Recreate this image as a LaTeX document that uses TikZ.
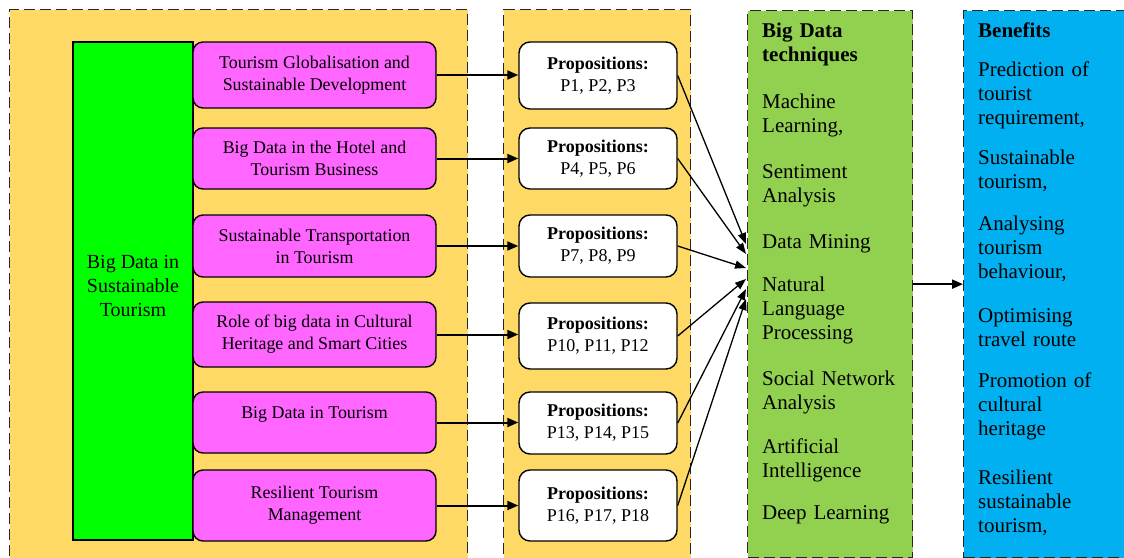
\documentclass[tikz,border=0pt]{standalone}
\usepackage{fontspec}
\setmainfont{Liberation Serif}
\usetikzlibrary{arrows.meta}
\definecolor{panelyellow}{HTML}{FFD966}
\definecolor{brightgreen}{HTML}{00FF00}
\definecolor{pinkbox}{HTML}{FF66FF}
\definecolor{techgreen}{HTML}{92D050}
\definecolor{benblue}{HTML}{00B0F0}
\tikzset{
  panel/.style={draw=black!85, line width=1.3pt, dash pattern=on 11pt off 5pt, inner sep=0pt},
  mbox/.style={draw=black, line width=1.4pt, fill=pinkbox, rounded corners=10pt, minimum width=243pt, inner sep=0pt, align=center, font=\fontsize{17.9}{22}\selectfont},
  pbox/.style={draw=black, line width=1.4pt, fill=white, rounded corners=11pt, minimum width=158pt, inner sep=0pt, align=center, font=\fontsize{18}{22}\selectfont},
  coltext/.style={anchor=base west, inner sep=0pt, text width=150pt, align=left, font=\fontsize{21}{24}\selectfont},
  harrow/.style={line width=2pt, -{Triangle[length=11pt,width=9pt]}},
  darrow/.style={line width=1.3pt, -{Triangle[length=11pt,width=8pt]}},
}
\begin{document}
\begin{tikzpicture}[x=1pt,y=-1pt]
\useasboundingbox (0,0) rectangle (1124,557);
\clip (0,0) rectangle (1124,557);
% panels
\node[panel, fill=panelyellow, minimum width=458pt, minimum height=565pt, anchor=north west] (lp) at (9,9) {};
\node[panel, fill=panelyellow, minimum width=187pt, minimum height=565pt, anchor=north west] (mp) at (503,9) {};
\node[panel, fill=techgreen, minimum width=165pt, minimum height=547pt, anchor=north west] (tech) at (747,10) {};
\node[panel, fill=benblue, minimum width=200pt, minimum height=547pt, anchor=north west] (ben) at (963,10) {};
% big green
\node[draw=black, line width=1.4pt, fill=brightgreen, minimum width=120pt, minimum height=498pt, inner sep=0pt] (bd) at (133,291) {};
\node[align=center, inner sep=0pt, font=\fontsize{20}{24}\selectfont] (bdt) at (133,286) {Big Data in\\Sustainable\\Tourism};
% pink boxes
\node[mbox, minimum height=66pt] (m1) at (314.5,75) {Tourism Globalisation and\\Sustainable Development};
\node[mbox, minimum height=61pt] (m2) at (314.5,158.5) {Big Data in the Hotel and\\Tourism Business};
\node[mbox, minimum height=62pt] (m3) at (314.5,246) {Sustainable Transportation\\in Tourism};
\node[mbox, minimum height=65pt] (m4) at (314.5,334.5) {Role of big data in Cultural\\Heritage and Smart Cities};
\node[mbox, minimum height=61pt] (m5) at (314.5,422.5) {};
\node[inner sep=0pt, font=\fontsize{17.9}{22}\selectfont] (m5t) at (314.5,414) {Big Data in Tourism};
\node[mbox, minimum height=71pt] (m6) at (314.5,505.5) {Resilient Tourism\\Management};
% proposition boxes
\node[pbox, minimum height=67pt] (p1) at (598,75.5) {\textbf{Propositions:}\\P1, P2, P3};
\node[pbox, minimum height=61pt] (p2) at (598,158.5) {\textbf{Propositions:}\\P4, P5, P6};
\node[pbox, minimum height=62pt] (p3) at (598,246) {\textbf{Propositions:}\\P7, P8, P9};
\node[pbox, minimum height=66pt] (p4) at (598,336) {\textbf{Propositions:}\\P10, P11, P12};
\node[pbox, minimum height=62pt] (p5) at (598,423) {\textbf{Propositions:}\\P13, P14, P15};
\node[pbox, minimum height=71pt] (p6) at (598,505.5) {\textbf{Propositions:}\\P16, P17, P18};
% horizontal arrows
\foreach \i in {1,...,6}{
  \draw[harrow] (m\i.east) -- (m\i.east -| p\i.west);
}
% convergence points
\coordinate (c1) at (746,244);
\coordinate (c2) at (746,254);
\coordinate (c3) at (746,268);
\coordinate (c4) at (746,279);
\coordinate (c5) at (746,289);
\coordinate (c6) at (746,299);
\foreach \i in {1,...,6}{
  \draw[darrow] (p\i.east) -- (c\i);
}
% tech to benefits
\draw[harrow] (tech.east) -- (tech.east -| ben.west);
% technique texts
\node[coltext] (t0) at (762,37) {\textbf{Big Data}\\\textbf{techniques}};
\node[coltext] (t1) at (762,108) {Machine\\Learning,};
\node[coltext] (t2) at (762,178) {Sentiment\\Analysis};
\node[coltext] (t3) at (762,248) {Data Mining};
\node[coltext] (t4) at (762,291) {Natural\\Language\\Processing};
\node[coltext] (t5) at (762,385) {Social\hspace{7pt}Network\\Analysis};
\node[coltext] (t6) at (762,453) {Artificial\\Intelligence};
\node[coltext] (t7) at (762,519) {Deep Learning};
% benefit texts
\node[coltext] (b0) at (978,37) {\textbf{Benefits}};
\node[coltext] (b1) at (978,76) {Prediction of\\tourist\\requirement,};
\node[coltext] (b2) at (978,164) {Sustainable\\tourism,};
\node[coltext] (b3) at (978,230) {Analysing\\tourism\\behaviour,};
\node[coltext] (b4) at (978,322) {Optimising\\travel route};
\node[coltext] (b5) at (978,387) {Promotion of\\cultural\\heritage};
\node[coltext] (b6) at (978,484) {Resilient\\sustainable\\tourism,};
\end{tikzpicture}
\end{document}
